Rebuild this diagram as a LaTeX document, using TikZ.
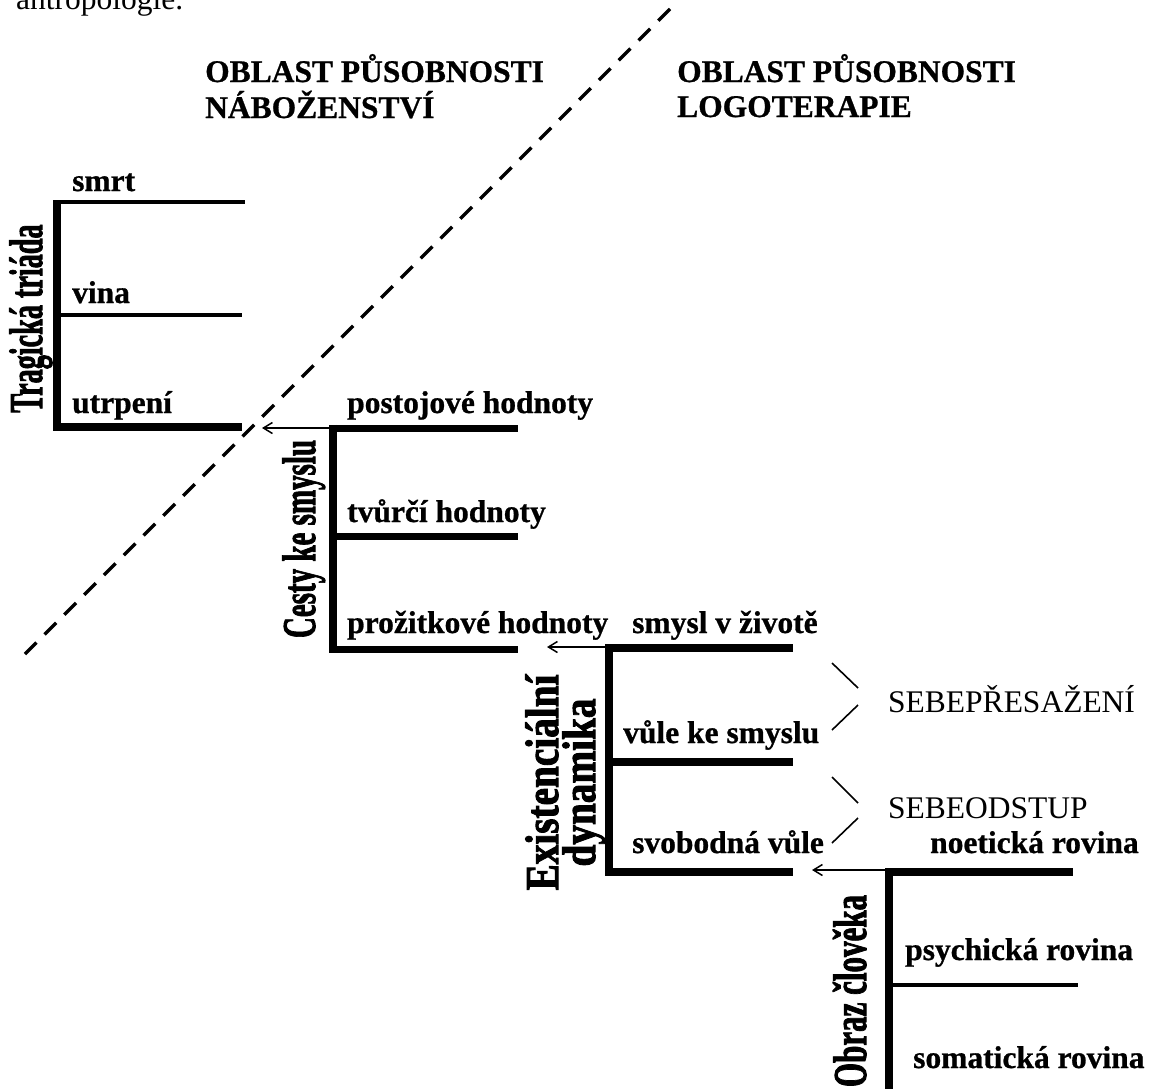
\documentclass[tikz,border=0pt]{standalone}
\usepackage{fontspec}
\setmainfont{Liberation Serif}[BoldFeatures={FakeBold=0.8}]
\newfontfamily\heavyfont{Liberation Serif}[BoldFeatures={FakeBold=2.2}]
\usetikzlibrary{arrows.meta}
\begin{document}
\begin{tikzpicture}[x=1pt,y=-1pt,
  lbl/.style={anchor=base west, inner sep=0pt, font=\fontsize{31.5}{36}\selectfont\bfseries},
  plainlbl/.style={anchor=base west, inner sep=0pt, font=\fontsize{31.5}{36}\selectfont},
  vlbl/.style={rotate=90, anchor=base, inner sep=0pt, font=\heavyfont\fontsize{47}{50}\selectfont\bfseries},
  bar/.style={line width=7.5pt},
  thinbar/.style={line width=4pt},
  arr/.style={line width=1.5pt, -{Straight Barb[length=9pt,width=11pt]}},
  bracestroke/.style={line width=1.6pt},
  divider/.style={line width=3.5pt, dash pattern=on 16.5pt off 11.5pt}
]
\useasboundingbox (0,0) rectangle (1154,1088);

% intro text (cut at the top, as in the reference)
\node[plainlbl] (intro) at (16,9) {antropologie.};

% headers
\node[lbl] (h1a) at (205,82) {OBLAST PŮSOBNOSTI};
\node[lbl] (h1b) at (205,118) {NÁBOŽENSTVÍ};
\node[lbl] (h2a) at (677,82) {OBLAST PŮSOBNOSTI};
\node[lbl] (h2b) at (677,117) {LOGOTERAPIE};

% dashed divider
\coordinate (dtop) at (670,9);
\coordinate (dbot) at (25,654);
\draw[divider] (dtop) -- (dbot);

% ---- Tragicka triada
\coordinate (Ttop) at (57,200);
\coordinate (Tbot) at (57,430.7);
\draw[bar] (Ttop) -- (Tbot);
\coordinate (T1s) at (55,201.7); \coordinate (T1e) at (245,201.7);
\coordinate (T2s) at (57,314.5); \coordinate (T2e) at (242,314.5);
\coordinate (T3s) at (53.3,426.7); \coordinate (T3e) at (242,426.7);
\draw[thinbar] (T1s) -- (T1e);
\draw[thinbar] (T2s) -- (T2e);
\draw[line width=8pt] (T3s) -- (T3e);
\node[lbl] (smrt) at (72,191) {smrt};
\node[lbl] (vina) at (72,303) {vina};
\node[lbl] (utrp) at (72,413) {utrpení};
\node[vlbl] (tt) at (42,318.5) {\scalebox{0.60}[1]{Tragická triáda}};

% ---- Cesty ke smyslu
\coordinate (Ctop) at (333,424.8);
\coordinate (Cbot) at (333,653.2);
\draw[bar] (Ctop) -- (Cbot);
\coordinate (C1s) at (329.3,428.5); \coordinate (C1e) at (518,428.5);
\coordinate (C2s) at (333,536.5); \coordinate (C2e) at (518,536.5);
\coordinate (C3s) at (329.3,649.5); \coordinate (C3e) at (518,649.5);
\draw[bar] (C1s) -- (C1e);
\draw[bar] (C2s) -- (C2e);
\draw[bar] (C3s) -- (C3e);
\coordinate (Cj) at (333,428);
\coordinate (Ctip) at (262,428);
\draw[arr] (Cj) -- (Ctip);
\node[lbl] (post) at (347,413) {postojové hodnoty};
\node[lbl] (tvur) at (347,522) {tvůrčí hodnoty};
\node[lbl] (proz) at (347,633) {prožitkové hodnoty};
\node[vlbl] (cks) at (315,539) {\scalebox{0.617}[1]{Cesty ke smyslu}};

% ---- Existencialni dynamika
\coordinate (Etop) at (609,644.5);
\coordinate (Ebot) at (609,875.8);
\draw[bar] (Etop) -- (Ebot);
\coordinate (E1s) at (605.3,648.2); \coordinate (E1e) at (793,648.2);
\coordinate (E2s) at (609,762); \coordinate (E2e) at (793,762);
\coordinate (E3s) at (605.3,872); \coordinate (E3e) at (793,872);
\draw[bar] (E1s) -- (E1e);
\draw[bar] (E2s) -- (E2e);
\draw[bar] (E3s) -- (E3e);
\coordinate (Ej) at (609,647);
\coordinate (Etip) at (547,647);
\draw[arr] (Ej) -- (Etip);
\node[lbl] (smysl) at (632,633) {smysl v životě};
\node[lbl] (vule) at (623,743) {vůle ke smyslu};
\node[lbl] (svob) at (632,853) {svobodná vůle};
\node[vlbl] (ex1) at (558,782.5) {\scalebox{0.835}[1]{Existenciální}};
\node[vlbl] (ex2) at (595,782.5) {\scalebox{0.835}[1]{dynamika}};

% braces and self-labels
\coordinate (b1a) at (832,663); \coordinate (b1b) at (858,688);
\coordinate (b2a) at (858,705); \coordinate (b2b) at (832,730);
\coordinate (b3a) at (832,777); \coordinate (b3b) at (858,803);
\coordinate (b4a) at (858,818); \coordinate (b4b) at (832,843);
\draw[bracestroke] (b1a) -- (b1b);
\draw[bracestroke] (b2a) -- (b2b);
\draw[bracestroke] (b3a) -- (b3b);
\draw[bracestroke] (b4a) -- (b4b);
\node[plainlbl] (sp) at (888,712) {SEBEPŘESAŽENÍ};
\node[plainlbl] (so) at (888,818) {SEBEODSTUP};

% ---- Obraz cloveka
\coordinate (Otop) at (889,868.3);
\coordinate (Obot) at (889,1095);
\draw[bar] (Otop) -- (Obot);
\coordinate (O1s) at (885.3,872); \coordinate (O1e) at (1073,872);
\coordinate (O2s) at (889,984.5); \coordinate (O2e) at (1078,984.5);
\draw[bar] (O1s) -- (O1e);
\draw[thinbar] (O2s) -- (O2e);
\coordinate (Oj) at (889,870);
\coordinate (Otip) at (812,870);
\draw[arr] (Oj) -- (Otip);
\node[lbl] (noet) at (930,853) {noetická rovina};
\node[lbl] (psych) at (905,960) {psychická rovina};
\node[lbl] (somat) at (913,1068) {somatická rovina};
\node[vlbl] (oc) at (866,991) {\scalebox{0.66}[1]{Obraz člověka}};
\end{tikzpicture}
\end{document}
